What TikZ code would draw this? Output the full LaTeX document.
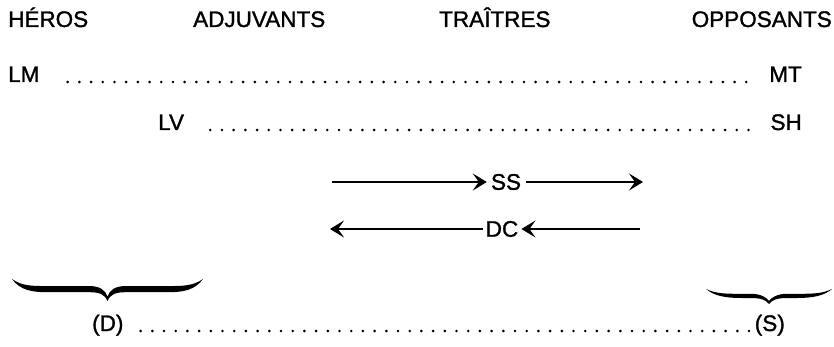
\documentclass[tikz,border=0pt]{standalone}
\usepackage{fontspec}
\setmainfont{Liberation Sans}[FakeBold=1.3]
\usetikzlibrary{arrows.meta}

% accolade horizontale, pointe vers le bas : gauche, droite, haut, profondeur
\newcommand{\accolade}[4]{%
  \pgfmathsetmacro\accm{(#1+#2)/2}
  \pgfmathsetmacro\accu{#3+0.32*#4}
  \pgfmathsetmacro\accl{#3+0.6*#4}
  \pgfmathsetmacro\accn{#3+0.8*#4}
  \pgfmathsetmacro\accp{#3+#4}
  \fill (#1,#3) .. controls (#1+10,\accu) and (#1+20,\accu) .. (#1+35,\accu)
     -- (\accm-18,\accu) .. controls (\accm-8,\accu) and (\accm-2,\accu+4) .. (\accm,\accn)
     .. controls (\accm+2,\accu+4) and (\accm+8,\accu) .. (\accm+18,\accu)
     -- (#2-35,\accu) .. controls (#2-20,\accu) and (#2-10,\accu) .. (#2,#3)
     .. controls (#2-8,\accl-2) and (#2-20,\accl) .. (#2-35,\accl)
     -- (\accm+18,\accl) .. controls (\accm+8,\accl) and (\accm+3,\accl+2) .. (\accm,\accp)
     .. controls (\accm-3,\accl+2) and (\accm-8,\accl) .. (\accm-18,\accl)
     -- (#1+35,\accl) .. controls (#1+20,\accl) and (#1+8,\accl-2) .. (#1,#3) -- cycle;
}

\begin{document}
\begin{tikzpicture}[x=1pt, y=-1pt,
    nom/.style={font=\fontsize{22.5}{27}\selectfont, inner sep=0pt},
    pointilles/.style={line width=2.9pt, line cap=round, dash pattern=on 0pt off 11.7pt},
    fleche/.style={line width=1.6pt, -{Stealth[length=14pt,width=17pt,inset=6pt]}}]
            \useasboundingbox (0,0) rectangle (834,347);

            % en-tetes
            \node[nom, anchor=base west] (heros) at (8,27) {HÉROS};
            \node[nom, anchor=base west] (adjuvants) at (193,27) {ADJUVANTS};
            \node[nom, anchor=base west] (traitres) at (439,27) {TRAÎTRES};
            \node[nom, anchor=base east] (opposants) at (832,27) {OPPOSANTS};

            % personnages
            \node[nom, anchor=base west] (LM) at (8,82) {LM};
            \node[nom, anchor=base east] (MT) at (802,82) {MT};
            \node[nom, anchor=base west] (LV) at (158,130) {LV};
            \node[nom, anchor=base east] (SH) at (802,130) {SH};
            \node[nom] (SS) at (506,182) {SS};
            \node[nom] (DC) at (502,229) {DC};
            \node[nom, anchor=base west] (D) at (92,331) {(D)};
            \node[nom, anchor=base east] (S) at (785,331) {(S)};

            \coordinate (ssA) at (332,182);
            \coordinate (ssB) at (643,182);
            \coordinate (dcA) at (330,229);
            \coordinate (dcB) at (640,229);

            % lignes pointillees
            \draw[pointilles, shorten <=28pt, shorten >=17pt] (LM.base east) -- (MT.base west);
            \draw[pointilles, shorten <=26pt, shorten >=16pt] (LV.base east) -- (SH.base west);
            \draw[pointilles, shorten <=17pt, shorten >=5pt] (D.base east) -- (S.base west);

            % fleches
            \draw[fleche, shorten >=4pt] (ssA) -- (SS);
            \draw[fleche, shorten <=5pt] (SS) -- (ssB);
            \draw[fleche, shorten <=3pt] (DC) -- (dcA);
            \draw[fleche, shorten >=3pt] (dcB) -- (DC);

            % accolades
            \accolade{12}{203}{279}{22}
            \accolade{706}{832}{289}{15}
\end{tikzpicture}
\end{document}
